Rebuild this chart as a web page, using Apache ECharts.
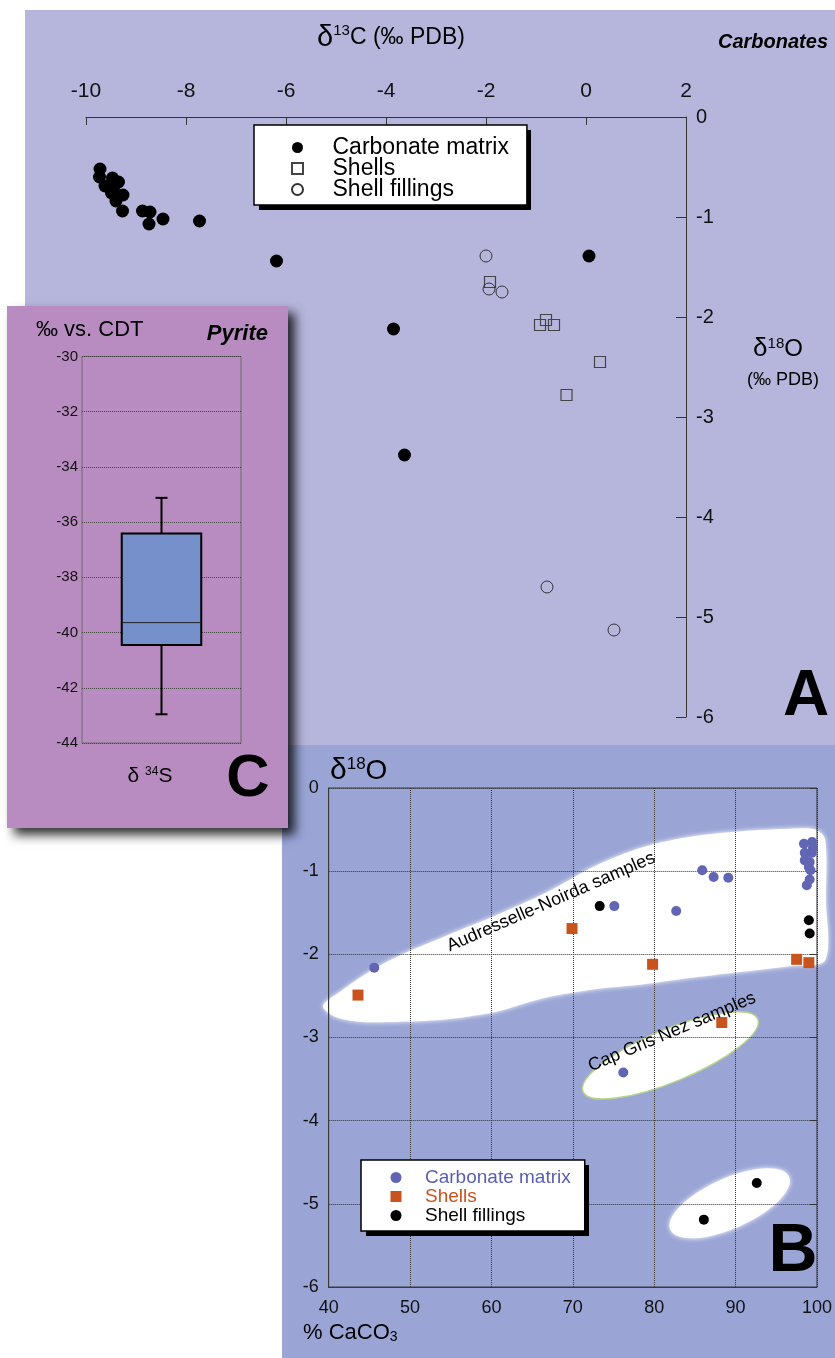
<!DOCTYPE html>
<html>
<head>
<meta charset="utf-8">
<script src="https://cdn.jsdelivr.net/npm/echarts@6/dist/echarts.min.js"></script>
<style>
html, body { margin: 0; padding: 0; background: #fff; }
#main { width: 835px; height: 1358px; }
</style>
</head>
<body>
<div id="main"></div>
<script>
// A : d13C vs d18O (per mil PDB)
var aMatrixC = [-9.72, -9.73, -9.47, -9.35, -9.62, -9.45, -9.26, -9.49, -9.40, -9.27, -8.87, -8.72, -8.74, -8.46, -7.73, -6.19, 0.06, -3.85, -3.63];
var aMatrixO = [-0.52, -0.60, -0.61, -0.65, -0.69, -0.71, -0.78, -0.76, -0.84, -0.94, -0.94, -0.95, -1.07, -1.02, -1.04, -1.44, -1.39, -2.12, -3.38];
var aShellC = [-1.92, -0.80, -0.92, -0.64, 0.28, -0.39];
var aShellO = [-1.65, -2.03, -2.08, -2.08, -2.45, -2.78];
var aFillC = [-2.00, -1.94, -1.68, -0.78, 0.56];
var aFillO = [-1.39, -1.72, -1.75, -4.70, -5.13];

// B : % CaCO3 vs d18O
var bMatrixCa = [45.6, 75.1, 82.7, 85.9, 87.3, 89.1, 76.2, 98.4, 99.4, 98.5, 99.35, 98.5, 99.1, 99.2, 99.1, 98.75, 99.5, 99.0];
var bMatrixO = [-2.16, -1.42, -1.48, -0.99, -1.07, -1.08, -3.42, -0.67, -0.65, -0.78, -0.78, -0.87, -0.89, -0.99, -1.10, -1.17, -0.72, -0.95];
var bShellCa = [43.6, 69.9, 79.8, 88.3, 97.5, 99.0];
var bShellO = [-2.49, -1.69, -2.12, -2.82, -2.06, -2.10];
var bFillCa = [73.3, 99.0, 99.1, 86.1, 92.6];
var bFillO = [-1.42, -1.59, -1.75, -5.19, -4.75];

// C : pyrite d34S (per mil vs CDT) min, q1, median, q3, max
var pyriteS = [-42.96, -40.45, -39.64, -36.41, -35.12];

var groups = ['Carbonate matrix', 'Shells', 'Shell fillings'];

var FONT = '"Liberation Sans", Arial, sans-serif';
var NARROW = '"Liberation Sans Narrow", "Liberation Sans", Arial, sans-serif';
var SQUARE = 'path://M0,0h10v10h-10z';

function pairs(xs, ys) {
	return xs.map(function (x, i) { return [x, ys[i]]; });
}

function label(x, y, text, o) {
	var st = {
		text: text, fontSize: o.size, fontFamily: o.family || FONT,
		fontWeight: o.weight || 'normal', fontStyle: o.style || 'normal',
		fill: o.color || '#000',
		align: o.align || 'center', verticalAlign: 'middle',
		textAlign: o.align || 'center', textVerticalAlign: 'middle',
		rich: o.rich
	};
	return { type: 'text', x: x, y: y, rotation: o.rot || 0, z: 10, silent: true, style: st };
}

// hard drop shadow behind a legend box
function boxShadow(x, y, w, h) {
	return { type: 'rect', z: 1, silent: true, shape: { x: x + 5, y: y + 5, width: w, height: h }, style: { fill: '#000' } };
}

var chart = echarts.init(document.getElementById('main'));

var option = {
	animation: false,
	textStyle: { fontFamily: FONT },
	grid: [
		{ left: 86, top: 117, width: 600, height: 600 },
		{ left: 328.7, top: 788, width: 497.7, height: 499, show: true, borderColor: '#3a3a3a', borderWidth: 1, backgroundColor: 'transparent' },
		{ left: 82, top: 356.5, width: 159, height: 386.5, show: true, borderColor: '#6a6a6a', borderWidth: 1, backgroundColor: 'transparent' }
	],
	xAxis: [
		{
			gridIndex: 0, type: 'value', position: 'top', min: -10, max: 2, interval: 2,
			axisLine: { show: true, onZero: false, lineStyle: { color: '#333' } },
			axisTick: { show: true, inside: true, length: 8, lineStyle: { color: '#333' } },
			axisLabel: { fontSize: 21, color: '#111', margin: 15, fontFamily: NARROW },
			splitLine: { show: false }
		},
		{
			gridIndex: 1, type: 'value', min: 40, max: 100, interval: 10,
			axisLine: { show: true, onZero: false, lineStyle: { color: '#3a3a3a' } },
			axisTick: { show: false },
			axisLabel: { fontSize: 18, color: '#111', margin: 12 },
			splitLine: { show: true, lineStyle: { type: 'dotted', color: '#333', width: 1 } }
		},
		{
			gridIndex: 2, type: 'category', data: ['δ34S'],
			axisLine: { show: false }, axisTick: { show: false }, axisLabel: { show: false }
		}
	],
	yAxis: [
		{
			gridIndex: 0, type: 'value', position: 'right', min: -6, max: 0, interval: 1,
			axisLine: { show: true, onZero: false, lineStyle: { color: '#333' } },
			axisTick: { show: true, inside: true, length: 10, lineStyle: { color: '#333' } },
			axisLabel: { fontSize: 20, color: '#111', margin: 10 },
			splitLine: { show: false }
		},
		{
			gridIndex: 1, type: 'value', min: -6, max: 0, interval: 1,
			axisLine: { show: true, onZero: false, lineStyle: { color: '#3a3a3a' } },
			axisTick: { show: false },
			axisLabel: { fontSize: 18, color: '#111', margin: 10 },
			splitLine: { show: true, lineStyle: { type: 'dotted', color: '#333', width: 1 } }
		},
		{
			gridIndex: 2, type: 'value', min: -44, max: -30, interval: 2,
			axisLine: { show: false }, axisTick: { show: false },
			axisLabel: { fontSize: 15, color: '#111', margin: 4 },
			splitLine: { show: true, lineStyle: { type: 'dotted', color: '#444', width: 1 } }
		},
		{
			gridIndex: 1, type: 'value', position: 'right', min: -6, max: 0, interval: 1,
			axisLine: { show: false },
			axisTick: { show: true, inside: true, length: 7, lineStyle: { color: '#333' } },
			axisLabel: { show: false }, splitLine: { show: false }
		}
	],
	legend: [
		{
			selectedMode: false, orient: 'vertical', left: 254, top: 125,
			padding: [11, 18, 4, 37], itemWidth: 60, itemHeight: 11, itemGap: -2,
			backgroundColor: '#fff', borderColor: '#000', borderWidth: 1.5,
			textStyle: { fontSize: 23, color: '#000' },
			data: [
				{ name: groups[0], icon: 'circle' },
				{ name: groups[1], icon: SQUARE },
				{ name: groups[2], icon: 'circle' }
			]
		},
		{
			selectedMode: false, orient: 'vertical', left: 361, top: 1160,
			padding: [8, 14, 6, 29.5], itemWidth: 48, itemHeight: 11, itemGap: 0,
			backgroundColor: '#fff', borderColor: '#000', borderWidth: 1.5,
			textStyle: { fontSize: 19, color: '#000' },
			formatter: function (n) { return n.replace('B ', ''); },
			data: [
				{ name: 'B ' + groups[0], icon: 'circle', textStyle: { color: '#5a5fb4' } },
				{ name: 'B ' + groups[1], icon: SQUARE, textStyle: { color: '#c9531d' } },
				{ name: 'B ' + groups[2], icon: 'circle', textStyle: { color: '#000' } }
			]
		}
	],
	graphic: {
		elements: [
			{ type: 'rect', z: -10, silent: true, shape: { x: 25, y: 10, width: 810, height: 735 }, style: { fill: '#b6b6dc' } },
			{ type: 'rect', z: -10, silent: true, shape: { x: 282, y: 745, width: 553, height: 613 }, style: { fill: '#9aa5d6' } },
			{ type: 'rect', z: -4, silent: true, shape: { x: 7, y: 306, width: 281, height: 522 },
				style: { fill: '#b88cc0', shadowColor: 'rgba(0,0,0,0.8)', shadowBlur: 10, shadowOffsetX: 7, shadowOffsetY: 7 } },
			boxShadow(254, 125, 272, 80),
			boxShadow(361, 1160, 223, 71),

			label(391, 38, '{d|δ}{s|13}C (‰ PDB)', { size: 23, family: NARROW,
				rich: { d: { fontSize: 29, fontFamily: NARROW }, s: { fontSize: 15, fontFamily: NARROW, verticalAlign: 'top', lineHeight: 13 } } }),
			label(828, 42, 'Carbonates', { size: 20, weight: 'bold', style: 'italic', align: 'right' }),
			label(778, 349, '{d|δ}{s|18}O', { size: 24,
				rich: { d: { fontSize: 26 }, s: { fontSize: 15, verticalAlign: 'top', lineHeight: 14 } } }),
			label(783, 380, '(‰ PDB)', { size: 18 }),
			label(806, 697, 'A', { size: 64, weight: 'bold' }),

			label(36, 330, '‰ vs. CDT', { size: 22, align: 'left' }),
			label(268, 334, 'Pyrite', { size: 22, weight: 'bold', style: 'italic', align: 'right' }),
			label(150, 776, '{d|δ} {s|34}S', { size: 21,
				rich: { d: { fontSize: 21 }, s: { fontSize: 12, verticalAlign: 'top', lineHeight: 12 } } }),
			label(248, 779, 'C', { size: 60, weight: 'bold' }),

			label(330, 771, '{d|δ}{s|18}O', { size: 28, align: 'left',
				rich: { d: { fontSize: 30 }, s: { fontSize: 17, verticalAlign: 'top', lineHeight: 16 } } }),
			label(303, 1333, '% CaCO{b|3}', { size: 22, align: 'left',
				rich: { b: { fontSize: 14, verticalAlign: 'bottom', lineHeight: 10 } } }),
			label(793, 1252, 'B', { size: 68, weight: 'bold' }),
			label(551, 902, 'Audresselle-Noirda samples', { size: 18, rot: 0.41 }),
			label(672, 1032, 'Cap Gris Nez samples', { size: 18, rot: 0.398 })
		]
	},
	series: [
		{
			type: 'scatter', name: groups[0], xAxisIndex: 0, yAxisIndex: 0,
			symbol: 'circle', symbolSize: 13, itemStyle: { color: '#000', opacity: 1 },
			data: pairs(aMatrixC, aMatrixO)
		},
		{
			type: 'scatter', name: groups[1], xAxisIndex: 0, yAxisIndex: 0,
			symbol: 'rect', symbolSize: 11, itemStyle: { color: 'rgba(0,0,0,0)', borderColor: '#444', borderWidth: 1.2, opacity: 1 },
			data: pairs(aShellC, aShellO)
		},
		{
			type: 'scatter', name: groups[2], xAxisIndex: 0, yAxisIndex: 0,
			symbol: 'circle', symbolSize: 12, itemStyle: { color: 'rgba(0,0,0,0)', borderColor: '#333', borderWidth: 1, opacity: 1 },
			data: pairs(aFillC, aFillO)
		},
		{
			// sample fields of panel B, in data units
			type: 'custom', xAxisIndex: 1, yAxisIndex: 1, z: -5, clip: false, silent: true,
			data: [[60, -2], [82, -3.2], [89.3, -5]],
			renderItem: function (params, api) {
				var outline = [
					[39.3, -2.62], [41.4, -2.45], [45.0, -2.21], [48.6, -2.02], [54.6, -1.77], [60.6, -1.53],
					[66.7, -1.26], [72.7, -0.94], [78.7, -0.71], [84.8, -0.58], [90.8, -0.52], [96.8, -0.49],
					[99.8, -0.50], [101.0, -0.62], [101.1, -1.35], [101.0, -2.07], [96.8, -2.14], [90.8, -2.21],
					[84.8, -2.28], [78.7, -2.36], [72.7, -2.42], [66.7, -2.52], [60.6, -2.69], [54.6, -2.78],
					[48.6, -2.81], [43.8, -2.81], [40.8, -2.75]
				];
				var i = params.dataIndex;
				if (i === 0) {
					return {
						type: 'polygon',
						shape: { points: outline.map(function (p) { return api.coord(p); }), smooth: 0.3 },
						style: { fill: '#fff', shadowBlur: 5, shadowColor: '#fff' }
					};
				}
				var ell = [null,
					{ c: [81.99, -3.215], rx: 94.6, ry: 26.2, rot: 0.393, stroke: '#b5d68a' },
					{ c: [89.28, -4.994], rx: 65, ry: 25, rot: 0.42, stroke: null }][i];
				var c = api.coord(ell.c);
				return {
					type: 'ellipse', x: c[0], y: c[1], rotation: ell.rot,
					shape: { cx: 0, cy: 0, rx: ell.rx, ry: ell.ry },
					style: { fill: '#fff', stroke: ell.stroke, lineWidth: 1.5, shadowBlur: ell.stroke ? 0 : 5, shadowColor: '#fff' }
				};
			}
		},
		{
			type: 'scatter', name: 'B ' + groups[0], xAxisIndex: 1, yAxisIndex: 1,
			symbol: 'circle', symbolSize: 10, itemStyle: { color: '#6166b4', opacity: 1 },
			data: pairs(bMatrixCa, bMatrixO)
		},
		{
			type: 'scatter', name: 'B ' + groups[1], xAxisIndex: 1, yAxisIndex: 1,
			symbol: 'rect', symbolSize: 11, itemStyle: { color: '#c9531d', opacity: 1 },
			data: pairs(bShellCa, bShellO)
		},
		{
			type: 'scatter', name: 'B ' + groups[2], xAxisIndex: 1, yAxisIndex: 1,
			symbol: 'circle', symbolSize: 10, itemStyle: { color: '#000', opacity: 1 },
			data: pairs(bFillCa, bFillO)
		},
		{
			type: 'custom', name: 'Pyrite', xAxisIndex: 2, yAxisIndex: 2, z: 3,
			encode: { x: 0, y: [1, 2, 3, 4, 5] },
			data: [[0].concat(pyriteS)],
			renderItem: function (params, api) {
				var cat = api.value(0);
				var lo = api.coord([cat, api.value(1)]);
				var q1 = api.coord([cat, api.value(2)]);
				var md = api.coord([cat, api.value(3)]);
				var q3 = api.coord([cat, api.value(4)]);
				var hi = api.coord([cat, api.value(5)]);
				var bw = api.size([1, 0])[0] * 0.5;
				var cx = lo[0], cap = 6;
				var ln = { stroke: '#000', lineWidth: 2 };
				return {
					type: 'group',
					children: [
						{ type: 'line', shape: { x1: cx, y1: hi[1], x2: cx, y2: q3[1] }, style: ln },
						{ type: 'line', shape: { x1: cx, y1: q1[1], x2: cx, y2: lo[1] }, style: ln },
						{ type: 'line', shape: { x1: cx - cap, y1: hi[1], x2: cx + cap, y2: hi[1] }, style: ln },
						{ type: 'line', shape: { x1: cx - cap, y1: lo[1], x2: cx + cap, y2: lo[1] }, style: ln },
						{ type: 'rect', shape: { x: cx - bw / 2, y: q3[1], width: bw, height: q1[1] - q3[1] },
							style: { fill: '#7590cb', stroke: '#000', lineWidth: 2 } },
						{ type: 'line', shape: { x1: cx - bw / 2, y1: md[1], x2: cx + bw / 2, y2: md[1] },
							style: { stroke: '#222', lineWidth: 1 } }
					]
				};
			}
		}
	]
};

chart.setOption(option);
</script>
</body>
</html>
